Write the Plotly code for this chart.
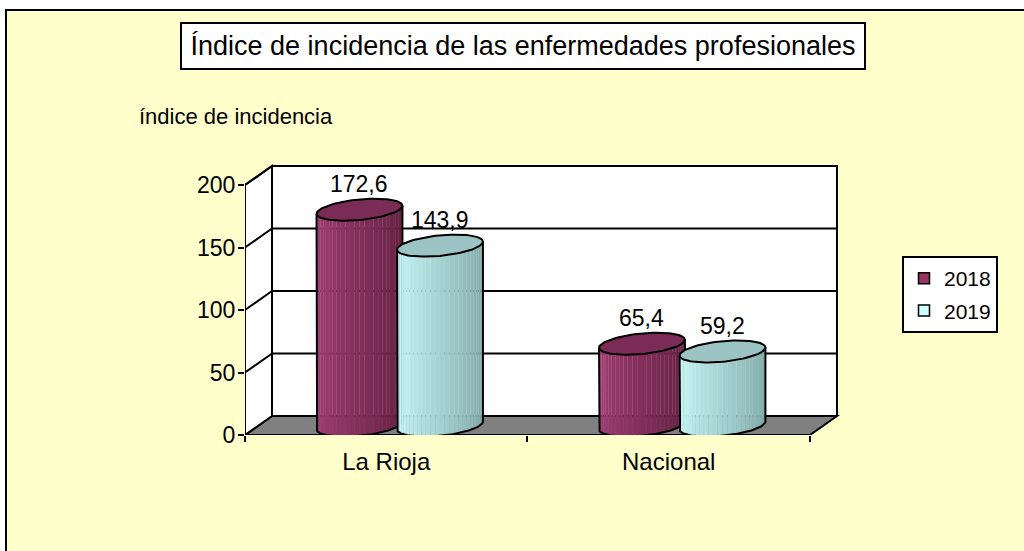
import numpy as np
import plotly.graph_objects as go

# ---- data ----
categories = ["La Rioja", "Nacional"]
series_names = ["2018", "2019"]
values_2018 = [172.6, 65.4]
values_2019 = [143.9, 59.2]
y_tick_values = [0, 50, 100, 150, 200]
y_axis_title = "índice de incidencia"
chart_title = "Índice de incidencia de las enfermedades profesionales"

# ---- layout constants ----
W, H = 1024, 551
M_L, M_R, M_T, M_B = 245, 179, 160, 116
PLOT_W = W - M_L - M_R
PLOT_H = H - M_T - M_B
Y_MAX = 220.0
X_MAX = 2.124
DEPTH_X = 0.0956      # oblique depth offset (x units)
DEPTH_Y = 15.2        # oblique depth offset (y units)
WALL_TOP = 200

# cylinder shape (data units)
CYL_OFFSET = 0.1425
ELL_A = 0.1417
ELL_BX = 0.055
ELL_BY = 8.8
N_STRIPS = 28

FONT = "Liberation Sans, Arial, sans-serif"
COLORS = {
    "2018": dict(left=(166, 64, 120), right=(94, 29, 61), top="#7B2C56", legend="#993366"),
    "2019": dict(left=(206, 255, 255), right=(124, 163, 163), top="#9CC4C4", legend="#CCFFFF"),
}


def px_to_paper(px, py):
    return (px - M_L) / PLOT_W, (H - M_B - py) / PLOT_H


def mix(c1, c2, f):
    return "rgb(%d,%d,%d)" % tuple(round(a + (b - a) * f) for a, b in zip(c1, c2))


fig = go.Figure()

# ---- chart area background ----
x0p, y0p = px_to_paper(6, 10)
x1p, y1p = px_to_paper(1040, 570)
shapes = [dict(type="rect", xref="paper", yref="paper", x0=x0p, y0=y1p, x1=x1p, y1=y0p,
               fillcolor="#FFFFCC", line=dict(color="black", width=2), layer="below")]

# ---- 3D frame: floor, side wall, back wall ----
n_cat = len(categories)
floor = f"M 0 0 L {n_cat} 0 L {n_cat + DEPTH_X} {DEPTH_Y} L {DEPTH_X} {DEPTH_Y} Z"
shapes.append(dict(type="path", path=floor, xref="x", yref="y", fillcolor="#808080",
                   line=dict(color="black", width=2), layer="below"))
side = f"M 0 0 L {DEPTH_X} {DEPTH_Y} L {DEPTH_X} {WALL_TOP + DEPTH_Y} L 0 {WALL_TOP} Z"
shapes.append(dict(type="path", path=side, xref="x", yref="y", fillcolor="white",
                   line=dict(color="black", width=2), layer="below"))
shapes.append(dict(type="rect", xref="x", yref="y", x0=DEPTH_X, y0=DEPTH_Y,
                   x1=n_cat + DEPTH_X, y1=WALL_TOP + DEPTH_Y, fillcolor="white",
                   line=dict(color="black", width=2), layer="below"))
for v in y_tick_values[1:-1]:
    shapes.append(dict(type="line", xref="x", yref="y", x0=DEPTH_X, y0=v + DEPTH_Y,
                       x1=n_cat + DEPTH_X, y1=v + DEPTH_Y,
                       line=dict(color="black", width=2), layer="below"))
for v in y_tick_values[1:]:
    shapes.append(dict(type="line", xref="x", yref="y", x0=0, y0=v, x1=DEPTH_X, y1=v + DEPTH_Y,
                       line=dict(color="black", width=2), layer="below"))
# front axis lines
shapes.append(dict(type="line", xref="x", yref="y", x0=0, y0=0, x1=0, y1=WALL_TOP,
                   line=dict(color="black", width=2), layer="below"))
shapes.append(dict(type="line", xref="x", yref="y", x0=0, y0=0, x1=n_cat, y1=0,
                   line=dict(color="black", width=2), layer="below"))


# ---- cylinders ----
def add_cylinder(cx, value, col):
    yb = DEPTH_Y / 2
    yt = yb + value
    t0 = np.arctan2(ELL_BX, ELL_A)
    ts = np.linspace(t0 + np.pi, t0 + 2 * np.pi, N_STRIPS + 1)
    for k in range(N_STRIPS):
        tt = np.linspace(ts[k], ts[k + 1], 5)
        xs = cx + ELL_A * np.cos(tt) + ELL_BX * np.sin(tt)
        ys = yb + ELL_BY * np.sin(tt)
        c = mix(col["left"], col["right"], k / (N_STRIPS - 1))
        fig.add_trace(go.Scatter(
            x=np.concatenate([xs, xs[::-1]]), y=np.concatenate([ys, ys[::-1] + value]),
            mode="lines", fill="toself", fillcolor=c, line=dict(color=c, width=0.5),
            showlegend=False, hoverinfo="skip"))
    # outline of the body
    tt = np.linspace(t0 + np.pi, t0 + 2 * np.pi, 80)
    xs = cx + ELL_A * np.cos(tt) + ELL_BX * np.sin(tt)
    ys = yb + ELL_BY * np.sin(tt)
    ox = np.concatenate([[xs[0]], xs, [xs[-1]]])
    oy = np.concatenate([[ys[0] + value], ys, [ys[-1] + value]])
    fig.add_trace(go.Scatter(x=ox, y=oy, mode="lines", line=dict(color="black", width=2),
                             showlegend=False, hoverinfo="skip"))
    # top cap
    tt = np.linspace(0, 2 * np.pi, 90)
    fig.add_trace(go.Scatter(
        x=cx + ELL_A * np.cos(tt) + ELL_BX * np.sin(tt), y=yt + ELL_BY * np.sin(tt),
        mode="lines", fill="toself", fillcolor=col["top"], line=dict(color="black", width=2),
        showlegend=False, hoverinfo="skip"))
    return yt + ELL_BY


annotations = []
for i, cat in enumerate(categories):
    centre = i + 0.5 + DEPTH_X / 2
    for j, (name, vals) in enumerate(zip(series_names, [values_2018, values_2019])):
        cx = centre + (-CYL_OFFSET if j == 0 else CYL_OFFSET)
        top = add_cylinder(cx, vals[i], COLORS[name])
        annotations.append(dict(x=cx, y=top, xref="x", yref="y", yanchor="bottom",
                                yshift=0, showarrow=False,
                                text=f"{vals[i]:.1f}".replace(".", ","),
                                font=dict(size=23, color="black", family=FONT)))

# legend entries
for name in series_names:
    fig.add_trace(go.Scatter(
        x=[None], y=[None], mode="markers", name=name, legendgroup=name,
        marker=dict(symbol="square", size=11, color=COLORS[name]["legend"],
                    line=dict(color="black", width=1.5))))

# ---- titles ----
tx, ty = px_to_paper(523, 46)
annotations.append(dict(x=tx, y=ty, xref="paper", yref="paper", xanchor="center",
                        yanchor="middle", showarrow=False, width=672, height=34,
                        text=chart_title, bgcolor="white", bordercolor="black",
                        borderwidth=2, borderpad=5,
                        font=dict(size=27, color="black", family=FONT)))
ax, ay = px_to_paper(137, 116)
annotations.append(dict(x=ax, y=ay, xref="paper", yref="paper", xanchor="left",
                        yanchor="middle", showarrow=False, text=y_axis_title,
                        font=dict(size=22, color="black", family=FONT)))

lx, ly = px_to_paper(902, 256)
fig.update_layout(
    width=W, height=H,
    margin=dict(l=M_L, r=M_R, t=M_T, b=M_B),
    paper_bgcolor="white", plot_bgcolor="rgba(0,0,0,0)",
    hovermode=False,
    shapes=shapes, annotations=annotations,
    xaxis=dict(range=[0, X_MAX], showgrid=False, zeroline=False, showline=False,
               tickvals=[i + 0.5 for i in range(n_cat)], ticktext=categories, ticks="",
               ticklabelstandoff=10,
               tickfont=dict(size=24, color="black", family=FONT),
               minor=dict(tickmode="array", tickvals=list(range(n_cat + 1)), ticks="outside",
                          ticklen=6, tickwidth=2, tickcolor="black", showgrid=False),
               fixedrange=True),
    yaxis=dict(range=[0, Y_MAX], showgrid=False, zeroline=False, showline=False,
               tickvals=y_tick_values, ticks="outside", ticklen=6, tickwidth=2,
               tickcolor="black", ticklabelstandoff=-2,
               tickfont=dict(size=23, color="black", family=FONT),
               fixedrange=True),
    legend=dict(x=lx, y=ly, xanchor="left", yanchor="top", bgcolor="white",
                bordercolor="black", borderwidth=2, tracegroupgap=2,
                font=dict(size=21, color="black", family=FONT), itemwidth=30),
)

fig.write_html("out.html", config={"displayModeBar": False})
